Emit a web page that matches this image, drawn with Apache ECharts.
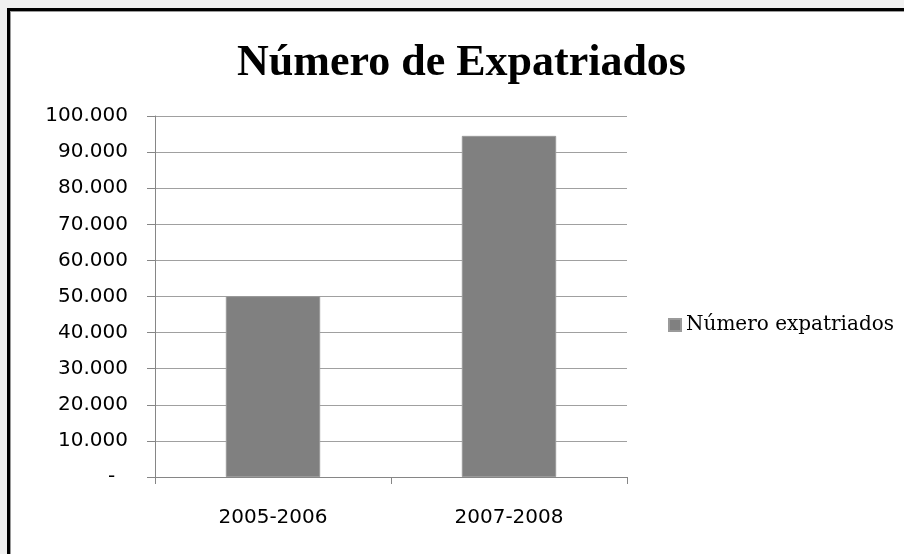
<!DOCTYPE html>
<html>
<head>
<meta charset="utf-8">
<script src="https://cdn.jsdelivr.net/npm/echarts@6/dist/echarts.min.js"></script>
<style>
  html, body { margin: 0; padding: 0; background: #f0f0f0; }
  #frame { position: absolute; left: 7px; top: 8px; width: 920px; height: 560px;
           background: #fff; border-left: 3px solid #000; border-top: 3px solid #000;
           box-shadow: inset 1px 1px 0 #9a9a9a; }
  #chart { position: absolute; left: 0; top: 0; width: 904px; height: 554px; }
</style>
</head>
<body>
<div id="frame"></div>
<div id="chart"></div>
<script>
const titleText = 'Número de Expatriados';
const seriesName = 'Número expatriados';
const categories = ['2005-2006', '2007-2008'];
const values = [50100, 94500];
const yMin = 0, yMax = 100000, yStep = 10000;

function fmt(v) {
  if (v === 0) return '-\u00a0\u00a0';
  return String(v).replace(/\B(?=(\d{3})+(?!\d))/g, '.');
}

const chart = echarts.init(document.getElementById('chart'), null, { renderer: 'canvas' });
chart.setOption({
  backgroundColor: 'transparent',
  animation: false,
  title: {
    text: titleText,
    top: 42,
    left: 237,
    padding: 0,
    textStyle: { fontFamily: 'Liberation Serif', fontWeight: 'bold', fontSize: 44, color: '#000' }
  },
  legend: {
    data: [seriesName],
    left: 668,
    top: 315,
    padding: 0,
    icon: 'rect',
    itemWidth: 12,
    itemHeight: 12,
    textStyle: { fontFamily: 'DejaVu Serif', fontSize: 20, color: '#000' }
  },
  grid: { left: 155, right: 277, top: 116, bottom: 77, containLabel: false },
  xAxis: {
    type: 'category',
    data: categories,
    axisLine: { lineStyle: { color: '#868686', width: 1 } },
    axisTick: { show: true, length: 7, lineStyle: { color: '#868686' } },
    axisLabel: { margin: 31, fontFamily: 'DejaVu Sans', fontSize: 20, color: '#000' },
    splitLine: { show: false }
  },
  yAxis: {
    type: 'value',
    min: yMin, max: yMax, interval: yStep,
    axisLine: { show: true, lineStyle: { color: '#868686', width: 1 } },
    axisTick: { show: true, length: 8, lineStyle: { color: '#868686' } },
    axisLabel: { margin: 27, fontFamily: 'DejaVu Sans', fontSize: 20, color: '#000', formatter: fmt },
    splitLine: { show: true, lineStyle: { color: '#a0a0a0', width: 1 } }
  },
  series: [{
    name: seriesName,
    type: 'bar',
    data: values,
    barWidth: '40%',
    itemStyle: { color: '#808080', borderColor: '#9a9a9a', borderWidth: 1 }
  }]
});
</script>
</body>
</html>
